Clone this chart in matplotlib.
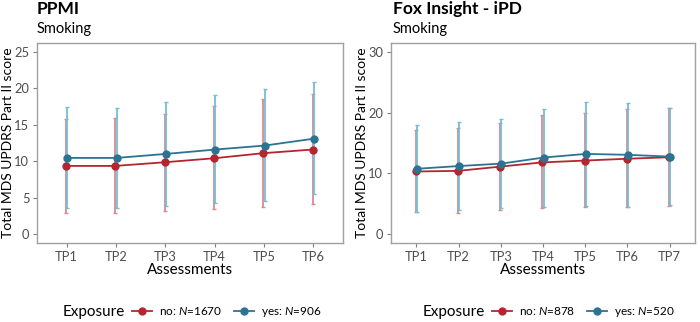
import numpy as np
import matplotlib.pyplot as plt
from matplotlib.lines import Line2D

plt.rcParams['font.family'] = ['Lato', 'DejaVu Sans']
plt.rcParams['mathtext.fontset'] = 'custom'
plt.rcParams['mathtext.it'] = 'Lato:italic'
plt.rcParams['mathtext.rm'] = 'Lato'

# PPMI panel
ppmi_tp = ['TP1', 'TP2', 'TP3', 'TP4', 'TP5', 'TP6']
ppmi_no_mean = [9.35, 9.35, 9.85, 10.4, 11.1, 11.6]
ppmi_no_low = [2.9, 2.9, 3.2, 3.45, 3.7, 4.15]
ppmi_no_high = [15.8, 15.9, 16.5, 17.6, 18.6, 19.2]
ppmi_yes_mean = [10.45, 10.45, 11.0, 11.6, 12.15, 13.1]
ppmi_yes_low = [3.5, 3.6, 3.9, 4.2, 4.5, 5.45]
ppmi_yes_high = [17.4, 17.3, 18.1, 19.1, 19.9, 20.9]

# Fox Insight panel
fox_tp = ['TP1', 'TP2', 'TP3', 'TP4', 'TP5', 'TP6', 'TP7']
fox_no_mean = [10.3, 10.4, 11.1, 11.8, 12.1, 12.4, 12.65]
fox_no_low = [3.6, 3.4, 3.9, 4.2, 4.4, 4.4, 4.6]
fox_no_high = [17.1, 17.5, 18.3, 19.6, 20.0, 20.6, 20.85]
fox_yes_mean = [10.75, 11.2, 11.6, 12.6, 13.2, 13.05, 12.75]
fox_yes_low = [3.66, 3.9, 4.2, 4.5, 4.6, 4.5, 4.8]
fox_yes_high = [17.9, 18.5, 18.9, 20.6, 21.7, 21.6, 20.8]

RED = '#B3262F'
BLUE = '#2C7393'
RED_ERR = '#D98A90'
BLUE_ERR = '#74BDD3'
GREY = '#4D4D4D'


def draw_panel(ax, tps, series, ymax, ystep, width_px):
    x = np.arange(len(tps))
    for mean, low, high, off, col, ecol in series:
        m = np.array(mean)
        yerr = [m - np.array(low), np.array(high) - m]
        ax.errorbar(x + off, m, yerr=yerr, fmt='none', ecolor=ecol,
                    elinewidth=1.3, capsize=1.2, capthick=1.0, zorder=2)
    for mean, low, high, off, col, ecol in series:
        ax.plot(x + off, mean, '-o', color=col, lw=1.3, ms=5, zorder=3)
    ax.set_xlim(-0.6, len(tps) - 0.4)
    pad = ymax * 0.05
    ax.set_ylim(-pad, ymax + pad)
    ax.set_yticks(np.arange(0, ymax + 1, ystep))
    ax.set_xticks(x)
    ax.set_xticklabels(tps)
    ax.tick_params(colors='#7F7F7F', labelcolor=GREY, labelsize=9.3, length=3,
                   width=0.8, pad=2.5)
    for s in ax.spines.values():
        s.set_color('#A0A0A0')
        s.set_linewidth(1.0)
    ax.set_xlabel('Assessments', fontsize=11, color='black', labelpad=0)
    ax.set_ylabel('Total MDS UPDRS Part II score', fontsize=10, color='black')
    ax.yaxis.set_label_coords(-23 / width_px, 0.5)


fig = plt.figure(figsize=(7.0, 3.22), dpi=100)
ax1 = fig.add_axes([37 / 700, 1 - 243 / 322, 306 / 700, 200 / 322])
ax2 = fig.add_axes([391 / 700, 1 - 243 / 322, 304 / 700, 200 / 322])

draw_panel(ax1, ppmi_tp,
           [(ppmi_no_mean, ppmi_no_low, ppmi_no_high, -0.015, RED, RED_ERR),
            (ppmi_yes_mean, ppmi_yes_low, ppmi_yes_high, 0.015, BLUE, BLUE_ERR)],
           25, 5, 306)
draw_panel(ax2, fox_tp,
           [(fox_no_mean, fox_no_low, fox_no_high, -0.015, RED, RED_ERR),
            (fox_yes_mean, fox_yes_low, fox_yes_high, 0.015, BLUE, BLUE_ERR)],
           30, 10, 304)

# titles
fig.text(37 / 700, 1 - 14 / 322, 'PPMI', fontsize=12.5, fontweight='bold')
fig.text(37 / 700, 1 - 33 / 322, 'Smoking', fontsize=10.5)
fig.text(393 / 700, 1 - 14 / 322, 'Fox Insight - iPD', fontsize=12.5, fontweight='bold')
fig.text(393 / 700, 1 - 33 / 322, 'Smoking', fontsize=10.5)


def legend(xtitle, xleg, n_no, n_yes):
    handles = [Line2D([], [], color=RED, marker='o', ms=5, lw=1.3),
               Line2D([], [], color=BLUE, marker='o', ms=5, lw=1.3)]
    labels = ['no: $\\it{N}$=%d' % n_no, 'yes: $\\it{N}$=%d' % n_yes]
    fig.text(xtitle / 700, 1 - 312 / 322, 'Exposure', fontsize=11, va='center')
    fig.legend(handles, labels, loc='center left', ncol=2, frameon=False,
               bbox_to_anchor=(xleg / 700, 1 - 312 / 322), fontsize=8.5,
               handlelength=1.7, handletextpad=0.6, columnspacing=1.0,
               borderpad=0, borderaxespad=0)


legend(63, 132, 1670, 906)
legend(423, 492, 878, 520)

fig.savefig('out.png', dpi=100)
